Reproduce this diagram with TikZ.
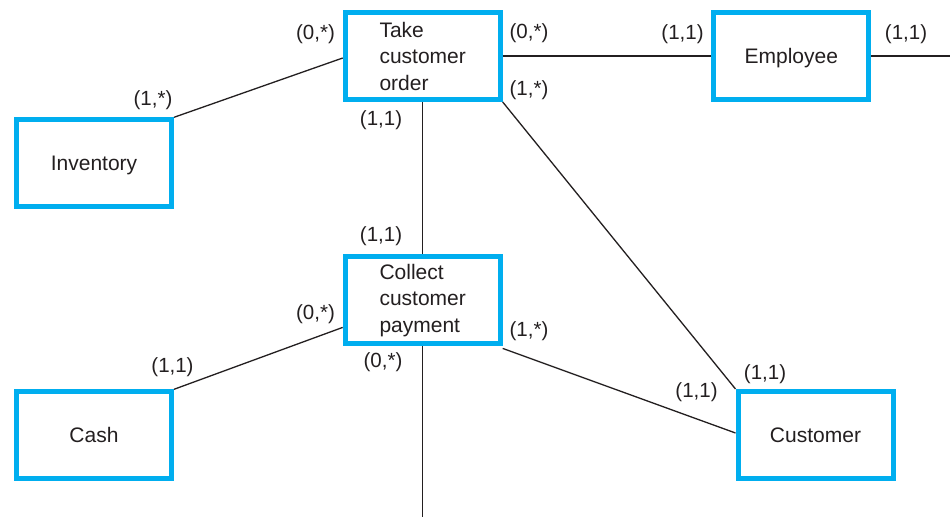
\documentclass[tikz,border=0pt]{standalone}
\usepackage{fontspec}
\setmainfont{Liberation Sans}
\definecolor{boxblue}{HTML}{00AEEF}
\definecolor{ink}{HTML}{231F20}
\begin{document}
\begin{tikzpicture}[x=1pt,y=-1pt,
  entity/.style={draw=boxblue, line width=5pt, fill=white, text=ink,
    minimum width=155pt, minimum height=87pt, inner sep=0pt,
    align=left, font=\fontsize{21}{26.5}\selectfont},
  card/.style={text=ink, inner sep=0pt, font=\fontsize{20.5}{24}\selectfont},
  link/.style={draw=ink, line width=1.3pt}]
\useasboundingbox (0,0) rectangle (950,517);
\fill[white] (0,0) rectangle (950,517);

% entities and processes
\node[entity] (take) at (422.7,56)   {Take\\customer\\order};
\node[entity] (coll) at (422.7,300.4) {Collect\\customer\\payment};
\node[entity, text depth=0pt] (emp)  at (791.3,56)   {Employee};
\node[entity, text depth=0pt] (inv)  at (94,163.3)   {Inventory};
\node[entity] (cash) at (94,435.3)   {Cash};
\node[entity] (cust) at (815.5,435)  {Customer};

% free ends at the page edges
\coordinate (empout) at (950,56);
\coordinate (collout) at (422.7,517);

% connectors
\draw[link] ([yshift=-2pt]take.west) -- (inv.north east);
\draw[link] (take.east) -- (emp.west);
\draw[link] (emp.east) -- (empout);
\draw[link] (take.south) -- (coll.north);
\draw[link] (take.south east) -- (cust.north west);
\draw[link] ([yshift=-27pt]coll.west) -- (cash.north east);
\draw[link] ([yshift=-2pt]coll.south east) -- ([yshift=2pt]cust.west);
\draw[link] (coll.south) -- (collout);

% cardinalities
\node[card] (c1)  at (315.5,34)  {(0,*)};
\node[card] (c2)  at (529,33)    {(0,*)};
\node[card] (c3)  at (529,90)    {(1,*)};
\node[card] (c4)  at (381,120)   {(1,1)};
\node[card] (c5)  at (381,236)   {(1,1)};
\node[card] (c6)  at (315.5,314) {(0,*)};
\node[card] (c7)  at (529,331)   {(1,*)};
\node[card] (c8)  at (383,362)   {(0,*)};
\node[card] (c9)  at (682.5,34)  {(1,1)};
\node[card] (c10) at (906,34)    {(1,1)};
\node[card] (c11) at (153,100)   {(1,*)};
\node[card] (c12) at (172.5,367) {(1,1)};
\node[card] (c13) at (765,374)   {(1,1)};
\node[card] (c14) at (696.5,392) {(1,1)};
\end{tikzpicture}
\end{document}
